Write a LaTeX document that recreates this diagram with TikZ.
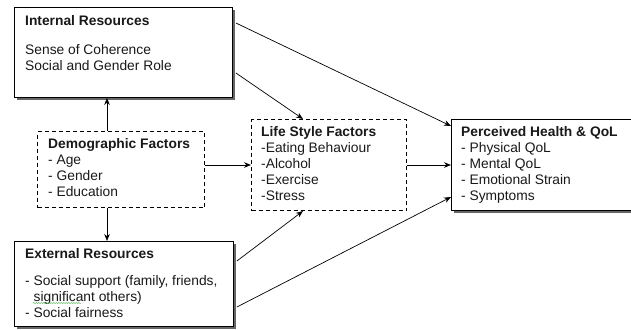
\documentclass[tikz,border=0pt]{standalone}
\usepackage{fontspec}
\setmainfont{Liberation Sans}
\usetikzlibrary{arrows.meta,shadows,decorations.pathmorphing}
\begin{document}
\begin{tikzpicture}[x=1pt,y=-1pt,
  solidbox/.style={draw=black, line width=0.9pt, fill=white,
    drop shadow={opacity=1,fill=black!60,shadow xshift=3pt,shadow yshift=-3pt},
    anchor=north west, inner sep=0},
  dashbox/.style={draw=black, line width=1pt, dash pattern=on 4pt off 3pt,
    anchor=north west, inner sep=0},
  txt/.style={anchor=north west, align=left, inner sep=0,
    font=\fontsize{13.8}{16}\selectfont, text=black!90},
  arr/.style={-{Stealth[length=7pt,width=5.5pt]}, line width=0.7pt}]
\useasboundingbox (0,0) rectangle (631,329);
% boxes
\node[solidbox, minimum width=218pt, minimum height=90pt] (int) at (14,7) {};
\node[dashbox, minimum width=167pt, minimum height=76pt] (demo) at (37,131) {};
\node[solidbox, minimum width=219pt, minimum height=85pt] (ext) at (14,241) {};
\node[dashbox, minimum width=155pt, minimum height=91pt] (life) at (251,119) {};
\node[solidbox, minimum width=200pt, minimum height=91pt] (perc) at (451,119) {};
% texts
\node[txt] (intT) at (25,15.5) {\textbf{Internal Resources}\\[13pt]Sense of Coherence\\Social and Gender Role};
\node[txt] (demoT) at (48,138.5) {\textbf{Demographic Factors}\\- Age\\- Gender\\- Education};
\node[txt] (lifeT) at (261,126.5) {\textbf{Life Style Factors}\\-Eating Behaviour\\-Alcohol\\-Exercise\\-Stress};
\node[txt] (percT) at (461,126.5) {\textbf{Perceived Health \& QoL}\\- Physical QoL\\- Mental QoL\\- Emotional Strain\\- Symptoms};
\node[txt] (extT) at (25,248.5) {\textbf{External Resources}\\[11pt]- Social support (family, friends,\\\phantom{- }significant others)\\- Social fairness};
\draw[green!55!black!60, line width=0.5pt, decorate,
  decoration={snake, amplitude=0.6pt, segment length=2.5pt}] (33,303) -- (81,303);
% connectors
\draw[arr] ([xshift=70pt]demo.north west) -- ([xshift=70pt]demo.north west |- int.south);
\draw[arr] ([xshift=70pt]demo.south west) -- ([xshift=70pt]demo.south west |- ext.north);
\draw[arr] (demo.east |- life.west) -- (life.west);
\draw[arr] (life.east) -- (perc.west |- life.east);
\draw[arr] ([shift={(3pt,-16pt)}]int.north east) -- ([yshift=-7pt]perc.north west);
\draw[arr] ([shift={(3pt,-66pt)}]int.north east) -- ([xshift=52pt]life.north west);
\draw[arr] ([shift={(3pt,-20pt)}]ext.north east) -- ([xshift=52pt]life.south west);
\draw[arr] ([shift={(3pt,-66pt)}]ext.north east) -- ([yshift=-78pt]perc.north west);
\end{tikzpicture}
\end{document}
